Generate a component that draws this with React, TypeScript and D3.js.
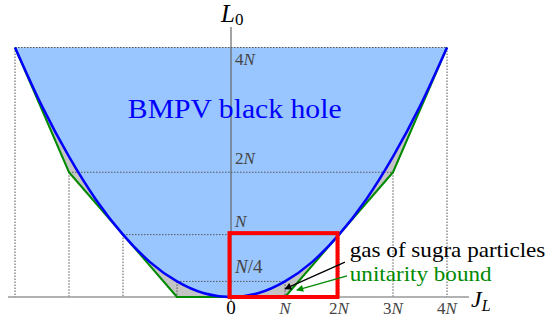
import React from "react";
import * as d3 from "d3";

// Parabola (BMPV bound) sample points, in units of N
const curveJ = [-4, -3.5, -3, -2.5, -2, -1.5, -1, -0.5, 0, 0.5, 1, 1.5, 2, 2.5, 3, 3.5, 4];
const curveL = [4, 3.06, 2.25, 1.56, 1, 0.56, 0.25, 0.06, 0, 0.06, 0.25, 0.56, 1, 1.56, 2.25, 3.06, 4];
// Unitarity bound polyline
const boundJ = [-4, -3, -1, 1, 3, 4];
const boundL = [4, 2, 0, 0, 2, 4];
// Dotted guide levels and their half-widths
const guideLevels = [0.25, 1, 2, 4];
const guideHalfWidths = [1, 2, 3, 4];
// Ticks
const xTickValues = [0, 1, 2, 3, 4];
const xTickLabels = ["0", "N", "2N", "3N", "4N"];
const yTickValues = [4, 2, 1, 0.25];
const yTickLabels = ["4N", "2N", "N", "N/4"];
// Highlight box
const boxJ = [0, 2];
const boxL = [0, 1];

const W = 550;
const H = 322;

const serif = "Liberation Serif";

function MathText({ text }: { text: string }) {
  const parts = text.split(/(N)/).filter((p) => p.length);
  return (
    <>
      {parts.map((p, i) =>
        p === "N" ? (
          <tspan key={i} fontStyle="italic">N</tspan>
        ) : (
          <tspan key={i}>{p}</tspan>
        )
      )}
    </>
  );
}

export default function App() {
  const x = d3.scaleLinear().domain([-4, 4]).range([15, 447]);
  const y = d3.scaleLinear().domain([0, 4]).range([297, 47.5]);

  const curvePts: [number, number][] = curveJ.map((j, i) => [j, curveL[i]]);
  const boundPts: [number, number][] = boundJ.map((j, i) => [j, boundL[i]]);

  const line = d3
    .line<[number, number]>()
    .x((d) => x(d[0]))
    .y((d) => y(d[1]))
    .curve(d3.curveMonotoneX);
  const poly = d3
    .line<[number, number]>()
    .x((d) => x(d[0]))
    .y((d) => y(d[1]));

  const blueArea = d3
    .area<[number, number]>()
    .x((d) => x(d[0]))
    .y0(() => y(4))
    .y1((d) => y(d[1]))
    .curve(d3.curveMonotoneX);
  const greyArea = d3
    .area<[number, number]>()
    .x((d) => x(d[0]))
    .y0(() => y(4))
    .y1((d) => y(d[1]));

  const dotted = { stroke: "#555", strokeWidth: 1, strokeDasharray: "1.5,1.5" };

  const bx = x(-1.91);
  const by = y(2.87);
  const gx = x(2.2);

  return (
    <svg width={W} height={H} fontFamily={serif} style={{ position: "absolute", left: 0, top: 0 }}>
      <defs>
        <marker id="ahB" viewBox="0 0 10 10" refX="9" refY="5" markerWidth="9" markerHeight="7" orient="auto" markerUnits="userSpaceOnUse">
          <path d="M0,0 L10,5 L0,10 Z" fill="#000" />
        </marker>
        <marker id="ahG" viewBox="0 0 10 10" refX="9" refY="5" markerWidth="9" markerHeight="7" orient="auto" markerUnits="userSpaceOnUse">
          <path d="M0,0 L10,5 L0,10 Z" fill="#008a00" />
        </marker>
      </defs>
      <rect x={0} y={0} width={W} height={H} fill="#fff" />
      {/* grey region between unitarity bound and parabola */}
      <path d={greyArea(boundPts) || ""} fill="#c4c4c4" />
      {/* blue BMPV region */}
      <path d={blueArea(curvePts) || ""} fill="#99c6ff" />

      {/* dotted guides */}
      {guideLevels.map((lv, i) => {
        const hw = guideHalfWidths[i];
        return (
          <g key={i}>
            <line x1={x(-hw)} x2={x(hw)} y1={y(lv)} y2={y(lv)} {...dotted} />
            <line x1={x(-hw)} x2={x(-hw)} y1={y(lv)} y2={y(0)} {...dotted} />
            <line x1={x(hw)} x2={x(hw)} y1={y(lv)} y2={y(0)} {...dotted} />
          </g>
        );
      })}

      {/* axes */}
      <line x1={8} x2={469} y1={y(0)} y2={y(0)} stroke="#999" strokeWidth={1.5} />
      <line x1={x(0)} x2={x(0)} y1={27} y2={302} stroke="#666" strokeWidth={1.2} />

      {/* unitarity bound */}
      <path d={poly(boundPts) || ""} fill="none" stroke="#008a00" strokeWidth={2} strokeLinejoin="round" />
      {/* BMPV parabola */}
      <path d={line(curvePts) || ""} fill="none" stroke="#0000ff" strokeWidth={2.5} />

      {/* red box */}
      <rect
        x={x(boxJ[0]) - 1.5}
        y={y(boxL[1]) - 1.5}
        width={x(boxJ[1]) - x(boxJ[0])}
        height={y(boxL[0]) - y(boxL[1]) + 1.5}
        fill="none"
        stroke="#ff0000"
        strokeWidth={4}
      />

      {/* tick labels */}
      {xTickValues.map((v, i) => (
        <text key={i} x={x(v)} y={314} textAnchor="middle" fontFamily={serif} fontSize={i === 0 ? 19 : 17} fill={i === 0 ? "#000" : "#444"}>
          <MathText text={xTickLabels[i]} />
        </text>
      ))}
      {yTickValues.map((v, i) => (
        <text key={i} x={x(0) + 4} y={v === 4 ? y(v) + 17 : y(v) - 8} fontFamily={serif} fontSize={i === 3 ? 19 : 17} fill="#444">
          <MathText text={yTickLabels[i]} />
        </text>
      ))}

      {/* axis titles */}
      <text x={x(0) - 10} y={22} fontFamily={serif} fontSize={25} fill="#000">
        <tspan fontStyle="italic">L</tspan>
        <tspan dy={3} fontSize={17}>0</tspan>
      </text>
      <text x={471} y={307} fontFamily={serif} fontSize={24} fill="#000">
        <tspan fontStyle="italic">J</tspan>
        <tspan dy={4} fontStyle="italic" fontSize={16}>L</tspan>
      </text>

      {/* main label (slightly stretched horizontally like the reference) */}
      <text transform={`translate(${bx},${by}) scale(1.06,1)`} fontFamily={serif} fontSize={28} fill="#0000ff">
        BMPV black hole
      </text>

      {/* annotations */}
      <line x1={x(2.11)} y1={y(0.56)} x2={x(1.0)} y2={y(0.13)} stroke="#000" strokeWidth={1.3} markerEnd="url(#ahB)" />
      <line x1={x(2.15)} y1={y(0.34)} x2={x(1.22)} y2={y(0.11)} stroke="#008a00" strokeWidth={1.3} markerEnd="url(#ahG)" />
      <text transform={`translate(${gx},${y(0.64)}) scale(1.1,1)`} fontFamily={serif} fontSize={21} fill="#000">
        gas of sugra particles
      </text>
      <text transform={`translate(${gx},${y(0.26)}) scale(1.1,1)`} fontFamily={serif} fontSize={21} fill="#008a00">
        unitarity bound
      </text>
    </svg>
  );
}
